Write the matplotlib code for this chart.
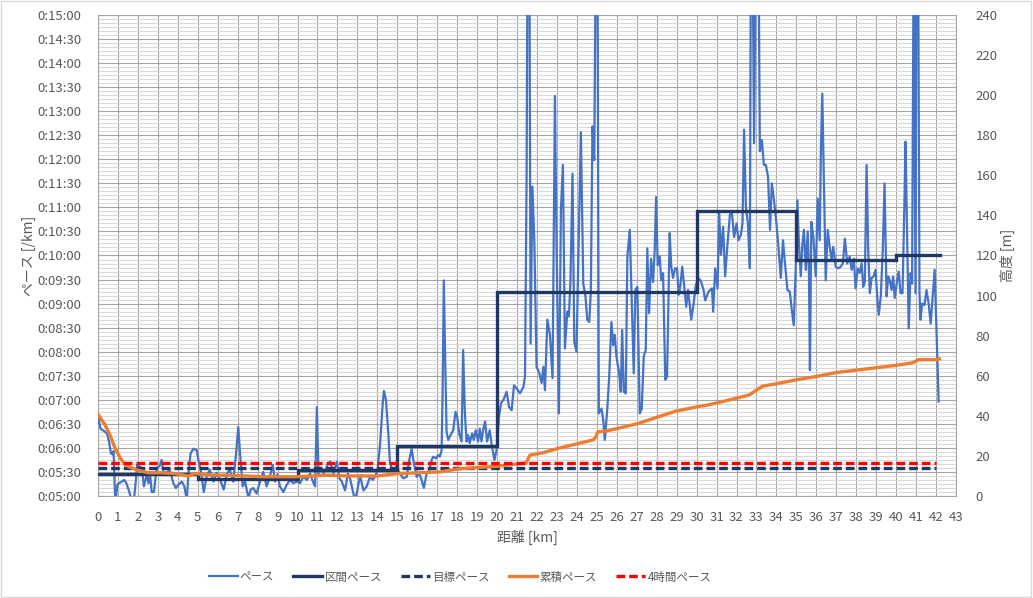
import matplotlib
matplotlib.use('Agg')
import matplotlib.pyplot as plt
from matplotlib.ticker import MultipleLocator, FuncFormatter
from matplotlib.patches import Rectangle

plt.rcParams['font.family'] = ['Noto Sans CJK JP', 'DejaVu Sans']

# ---- data (pace in seconds per km) ----
pace_km = [0.0, 0.12, 0.3, 0.45, 0.55, 0.65, 0.73, 0.78, 0.87, 0.97, 1.05, 1.2, 1.32, 1.42, 1.57, 1.68, 1.78, 1.9,
           1.96, 2.07, 2.2, 2.3, 2.45, 2.53, 2.6, 2.69, 2.8, 2.94, 3.08, 3.19, 3.28, 3.45, 3.6, 3.78, 3.9, 4.03, 4.2,
           4.33, 4.45, 4.53, 4.64, 4.78, 4.95, 5.03, 5.17, 5.3, 5.45, 5.6, 5.78, 5.95, 6.12, 6.3, 6.45, 6.6, 6.78,
           6.92, 7.03, 7.12, 7.25, 7.37, 7.54, 7.65, 7.78, 7.95, 8.12, 8.28, 8.45, 8.62, 8.76, 8.87, 8.99, 9.12,
           9.29, 9.46, 9.62, 9.79, 9.95, 10.12, 10.3, 10.47, 10.63, 10.77, 10.88, 10.97, 11.05, 11.17, 11.3, 11.47,
           11.63, 11.72, 11.8, 11.97, 12.1, 12.22, 12.38, 12.52, 12.63, 12.8, 12.88, 13.0, 13.13, 13.3, 13.47,
           13.63, 13.77, 13.88, 14.0, 14.13, 14.27, 14.33, 14.43, 14.55, 14.63, 14.72, 14.83, 14.97, 15.13, 15.3,
           15.47, 15.6, 15.72, 15.83, 15.97, 16.1, 16.22, 16.33, 16.47, 16.6, 16.72, 16.8, 16.93, 17.05, 17.13,
           17.22, 17.27, 17.33, 17.4, 17.47, 17.55, 17.67, 17.8, 17.92, 18.0, 18.1, 18.22, 18.3, 18.38, 18.47,
           18.55, 18.63, 18.75, 18.83, 18.93, 19.05, 19.13, 19.22, 19.3, 19.4, 19.5, 19.63, 19.73, 19.87, 19.97,
           20.1, 20.2, 20.32, 20.48, 20.6, 20.73, 20.85, 20.98, 21.15, 21.32, 21.4, 21.48, 21.53, 21.62, 21.68,
           21.77, 21.87, 21.98, 22.12, 22.23, 22.32, 22.4, 22.52, 22.65, 22.78, 22.9, 22.98, 23.1, 23.2, 23.3,
           23.4, 23.52, 23.6, 23.68, 23.78, 23.87, 23.98, 24.07, 24.2, 24.32, 24.43, 24.52, 24.62, 24.7, 24.78,
           24.87, 24.95, 25.03, 25.1, 25.23, 25.32, 25.4, 25.52, 25.62, 25.73, 25.82, 25.9, 25.98, 26.12, 26.2,
           26.27, 26.35, 26.45, 26.53, 26.65, 26.73, 26.85, 26.93, 27.03, 27.15, 27.25, 27.35, 27.45, 27.53,
           27.62, 27.72, 27.82, 27.9, 27.97, 28.05, 28.15, 28.23, 28.32, 28.43, 28.52, 28.65, 28.73, 28.82,
           28.92, 29.02, 29.1, 29.18, 29.28, 29.38, 29.48, 29.57, 29.65, 29.73, 29.85, 29.95, 30.07, 30.2, 30.35,
           30.43, 30.6, 30.77, 30.83, 30.93, 31.05, 31.13, 31.22, 31.33, 31.43, 31.55, 31.67, 31.77, 31.88, 32.0,
           32.1, 32.22, 32.3, 32.38, 32.47, 32.57, 32.67, 32.72, 32.8, 32.88, 32.97, 33.1, 33.17, 33.27, 33.37,
           33.47, 33.58, 33.68, 33.77, 33.88, 34.0, 34.1, 34.22, 34.33, 34.43, 34.55, 34.67, 34.77, 34.87, 34.97,
           35.05, 35.13, 35.22, 35.3, 35.38, 35.47, 35.57, 35.63, 35.68, 35.75, 35.85, 35.97, 36.07, 36.17, 36.23,
           36.3, 36.38, 36.47, 36.57, 36.67, 36.77, 36.85, 36.97, 37.1, 37.22, 37.33, 37.43, 37.55, 37.67, 37.77,
           37.88, 37.97, 38.07, 38.17, 38.27, 38.35, 38.43, 38.52, 38.6, 38.68, 38.77, 38.87, 38.97, 39.05, 39.13,
           39.23, 39.33, 39.42, 39.52, 39.6, 39.68, 39.77, 39.85, 39.93, 40.05, 40.13, 40.22, 40.32, 40.42, 40.47,
           40.55, 40.63, 40.72, 40.8, 40.88, 40.97, 41.02, 41.1, 41.17, 41.22, 41.3, 41.42, 41.52, 41.63, 41.73,
           41.83, 41.93, 42.02, 42.13]
pace_sec = [401, 384, 381, 378, 368, 353, 352, 356, 290, 314, 316, 318, 320, 316, 305, 295, 290, 320,
            339, 337, 335, 312, 327, 316, 330, 305, 305, 335, 337, 345, 329, 330, 332, 316, 310, 314, 318,
            312, 295, 327, 353, 359, 357, 345, 329, 305, 325, 333, 318, 329, 320, 308, 327, 333, 318,
            353, 386, 353, 312, 318, 297, 308, 310, 303, 318, 330, 312, 325, 339, 318, 327, 312,
            305, 314, 320, 316, 318, 316, 324, 320, 328, 318, 312, 411, 328, 335, 328, 337,
            343, 335, 328, 343, 322, 318, 307, 328, 322, 303, 295, 307, 326, 307, 312,
            324, 320, 324, 332, 362, 416, 431, 420, 378, 341, 335, 332, 337, 328, 322,
            324, 345, 359, 341, 324, 328, 320, 310, 328, 332, 345, 349, 347, 351, 349,
            357, 428, 569, 470, 380, 370, 376, 382, 405, 399, 378, 368, 482, 407, 368,
            376, 366, 378, 370, 382, 368, 384, 368, 382, 393, 368, 382, 364, 345, 357,
            399, 416, 420, 430, 411, 407, 438, 434, 428, 436, 449, 698, 1000, 1000, 490,
            686, 615, 461, 453, 441, 461, 432, 520, 501, 447, 799, 615, 403, 657, 713,
            484, 530, 524, 569, 702, 492, 480, 594, 754, 565, 549, 520, 517, 555, 761,
            719, 1000, 1000, 403, 409, 395, 370, 407, 449, 517, 488, 501, 474, 453, 430,
            507, 430, 428, 599, 632, 561, 453, 557, 561, 403, 409, 474, 482, 609,
            528, 596, 567, 607, 673, 588, 599, 569, 578, 445, 449, 628, 586, 572,
            584, 584, 551, 561, 586, 561, 536, 557, 540, 520, 540, 561, 572, 569, 557,
            544, 555, 559, 530, 584, 559, 653, 601, 636, 574, 615, 651, 653, 623, 640,
            619, 626, 640, 757, 661, 640, 584, 1000, 1000, 740, 1000, 1000, 730, 744, 713,
            713, 698, 632, 690, 669, 640, 611, 572, 619, 590, 557, 555, 532, 513, 586,
            669, 615, 574, 613, 632, 582, 630, 578, 457, 642, 623, 574, 671, 619, 732,
            802, 690, 569, 632, 611, 594, 611, 586, 584, 586, 590, 621, 590, 599, 582,
            596, 559, 584, 578, 590, 561, 567, 713, 607, 553, 572, 574, 582, 549, 526,
            549, 607, 690, 549, 574, 569, 557, 574, 547, 569, 580, 553, 553, 673, 742,
            623, 509, 578, 565, 1000, 553, 1000, 1000, 553, 520, 540, 538, 557, 540, 515,
            549, 582, 507, 418]

split_km = [0, 5, 10, 15, 20, 25, 30, 35, 40, 42.2]
split_sec = [328, 321, 333, 362, 555, 554, 655, 595, 601]

target_km = [0, 42.0]
target_sec = 335
four_hour_sec = 341

cum_km = [0.0, 0.1, 0.35, 0.6, 0.85, 1.1, 1.35, 1.69, 2.02, 2.52, 3.19, 3.86, 4.53, 4.86, 5.7, 6.5, 7.37,
          8.2, 9.0, 9.87, 10.7, 11.4, 12.5, 14.0, 15.0, 17.13, 18.13, 19.97, 20.63, 21.45, 21.55, 21.65,
          22.3, 23.0, 24.0, 24.82, 24.95, 25.05, 25.48, 26.32, 27.15, 27.98, 28.98, 29.98, 30.65, 31.0,
          32.0, 32.63, 33.0, 33.3, 34.0, 35.0, 36.0, 37.0, 38.0, 39.0, 40.0, 40.8, 41.13, 42.0, 42.17]
cum_sec = [402, 398, 389, 376, 360, 348, 339, 335, 332, 329, 329, 328, 325, 328, 326, 326, 325,
           324, 324, 324, 325, 326, 325, 325, 328, 330, 334, 337, 339, 341, 346, 351,
           354, 359, 365, 370, 374, 380, 381, 386, 391, 398, 406, 411, 414, 416,
           422, 426, 432, 437, 440, 445, 449, 454, 457, 460, 463, 466, 470, 470, 471]

labels = ['ペース', '区間ペース', '目標ペース', '累積ペース', '4時間ペース']

# ---- styling ----
TXT = '#595959'
C_PACE = '#4472C4'
C_SPLIT = '#203864'
C_CUM = '#ED7D31'
C_RED = '#FF0000'

W, H = 1033, 598
fig = plt.figure(figsize=(W / 100, H / 100), dpi=100)
ax = fig.add_axes([98 / W, 1 - 496 / H, (956 - 98) / W, (496 - 15) / H])

ax.plot(pace_km, pace_sec, color=C_PACE, lw=1.6, zorder=3, label=labels[0])
ax.plot(split_km, split_sec + [split_sec[-1]], color=C_SPLIT, lw=2.4, drawstyle='steps-post',
        zorder=4, label=labels[1], solid_joinstyle='miter')
ax.plot(target_km, [target_sec] * 2, color=C_SPLIT, lw=2.4, dashes=(2.6, 1.2), zorder=5,
        label=labels[2])
ax.plot(cum_km, cum_sec, color=C_CUM, lw=2.4, zorder=6, label=labels[3])
ax.plot(target_km, [four_hour_sec] * 2, color=C_RED, lw=2.4, dashes=(2.6, 1.2), zorder=7,
        label=labels[4])

ax.set_xlim(0, 43)
ax.set_ylim(300, 900)
ax.xaxis.set_major_locator(MultipleLocator(1))
ax.yaxis.set_major_locator(MultipleLocator(30))
ax.yaxis.set_minor_locator(MultipleLocator(5))


def fmt(v, _):
    v = int(round(v))
    return f"0:{v // 60:02d}:{v % 60:02d}"


ax.yaxis.set_major_formatter(FuncFormatter(fmt))
ax.grid(which='minor', axis='y', color='#D9D9D9', lw=0.8, zorder=0)
ax.grid(which='major', color='#A6A6A6', lw=0.8, zorder=1)
ax.set_axisbelow(True)
for s in ax.spines.values():
    s.set_color('#A6A6A6')
    s.set_linewidth(0.8)
ax.tick_params(which='both', length=0, labelsize=9.5, labelcolor=TXT)
ax.tick_params(axis='y', pad=12)
ax.tick_params(axis='x', pad=11)

ax.set_xlabel('距離 [km]', fontsize=10, color=TXT, labelpad=4)
ax.set_ylabel('ペース [/km]', fontsize=10, color=TXT, labelpad=1)

ax2 = ax.twinx()
ax2.set_ylim(0, 240)
ax2.yaxis.set_major_locator(MultipleLocator(20))
ax2.tick_params(length=0, labelsize=9.5, labelcolor=TXT, pad=14)
for s in ax2.spines.values():
    s.set_visible(False)
ax2.set_ylabel('高度 [m]', fontsize=10, color=TXT, labelpad=2)

handles, labs = ax.get_legend_handles_labels()
leg = fig.legend(handles, labs, loc='center', bbox_to_anchor=(460 / W, 1 - 577 / H), ncol=5,
                 frameon=False, fontsize=8.3, handlelength=2.5, handletextpad=0.2,
                 columnspacing=1.65)
for t in leg.get_texts():
    t.set_color(TXT)

fig.patches.append(Rectangle((0.0005, 0.001), 0.998, 0.997, transform=fig.transFigure, fill=False,
                             edgecolor='#D9D9D9', lw=1))

fig.savefig('out.png', dpi=100)
